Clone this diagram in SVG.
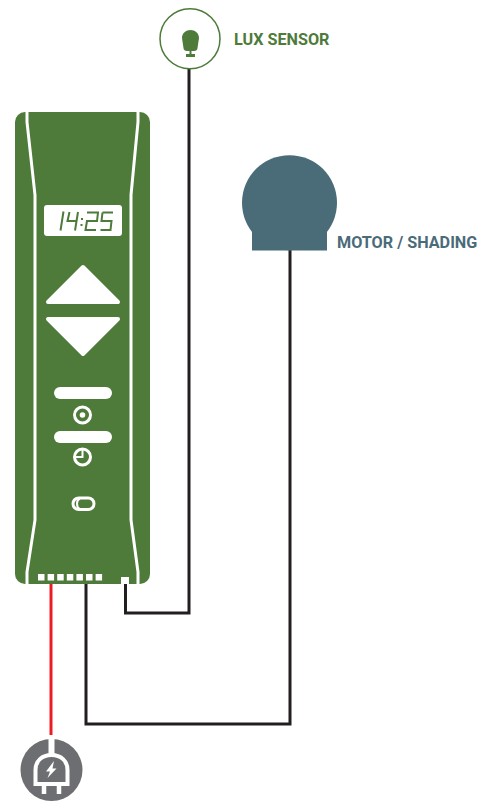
<svg xmlns="http://www.w3.org/2000/svg" width="479" height="802" viewBox="0 0 479 802">
<style>
.w{fill:#fff}
.ol{fill:none;stroke:#fff;stroke-width:3}
.lb{font-family:Roboto,"Liberation Sans",sans-serif;font-weight:700;font-size:16.2px}
.wire{fill:none;stroke:#231f20;stroke-width:3}
.seg{fill:none;stroke:#4e7a3a;stroke-width:2}
</style>
<rect width="479" height="802" fill="#fff"/>
<g id="connectors">
<path class="wire" d="M125.500 583V613H189V68"/>
<path class="wire" d="M86 582V724H290V250"/>
<path fill="none" stroke="#ed1c24" stroke-width="3" d="M51 582V735"/>
</g>
<g id="controller">
<rect x="15" y="112" width="135" height="472" rx="10" fill="#4e7a3a"/>
<path class="ol" d="M27 112V122L35 195V520L27 572V584"/>
<path class="ol" d="M138 112V122L131 195V520L138 572V584"/>
<rect class="w" x="44" y="205" width="78" height="31" rx="3"/>
<g class="seg">
<path d="M63.500 211.500L60.500 230.500"/>
<path d="M69.500 212L67.500 221H77M78 212L75 230.500"/>
<path d="M87 212.500H98L97 221H87L85.500 230H96"/>
<path d="M102.500 212.500H113M102.500 212.500L101.500 221H111.500L110.500 230H100.500"/>
<path d="M82 218v2M81.500 224v2"/>
</g>
<path class="w" stroke="#fff" stroke-width="4" stroke-linejoin="round" d="M83 267L118 302H48Z"/>
<path class="w" stroke="#fff" stroke-width="4" stroke-linejoin="round" d="M48 319H118L83 354Z"/>
<rect class="w" x="54" y="387" width="58" height="12" rx="6"/>
<rect class="w" x="54" y="431" width="58" height="12" rx="6"/>
<circle class="ol" cx="82.500" cy="415" r="8"/>
<circle class="w" cx="82.500" cy="415" r="2.800"/>
<circle class="ol" cx="82.500" cy="457" r="8"/>
<path fill="none" stroke="#fff" stroke-width="2" d="M82.500 449V457H75"/>
<rect class="ol" x="73" y="498" width="21" height="11.500" rx="5.750"/>
<path fill="none" stroke="#fff" stroke-width="2" d="M80 498.500C76 500 76 507.500 80 509"/>
<g class="w">
<rect x="38" y="574" width="6.500" height="6.500"/>
<rect x="47.600" y="574" width="6.500" height="6.500"/>
<rect x="57.200" y="574" width="6.500" height="6.500"/>
<rect x="66.800" y="574" width="6.500" height="6.500"/>
<rect x="76.400" y="574" width="6.500" height="6.500"/>
<rect x="86" y="574" width="6.500" height="6.500"/>
<rect x="95.600" y="574" width="6.500" height="6.500"/>
<rect x="121" y="577" width="8" height="7"/>
</g>
</g>
<g id="lux-sensor">
<circle cx="190" cy="38.700" r="30" fill="#fff" stroke="#4e7a3a" stroke-width="1.500"/>
<path fill="#4e7a3a" d="M182 38C182 33 186 30 190.500 30S199 33 199 38L197.500 48C197.500 50 196 51 194 51H187C185 51 183.500 50 183.500 48Z"/>
<rect x="186" y="54" width="9" height="3" fill="#4e7a3a"/>
<rect x="189.500" y="50" width="2" height="5" fill="#4e7a3a"/>
<text class="lb" x="234" y="45" fill="#4e7a3a">LUX SENSOR</text>
</g>
<g id="motor">
<circle cx="289.500" cy="202.700" r="47.500" fill="#4a6b78"/>
<rect x="252" y="228" width="75" height="22.500" fill="#4a6b78"/>
<text class="lb" x="337" y="248" fill="#4a6b78">MOTOR / SHADING</text>
</g>
<g id="power-plug">
<circle cx="51.500" cy="770" r="31" fill="#6d6e71"/>
<path d="M51.500 738V756" stroke="#fff" stroke-width="6" fill="none"/>
<path fill="none" stroke="#fff" stroke-width="4" d="M35.500 784V770C35.500 761 42 755 51.500 755S67.500 761 67.500 770V784Z"/>
<path fill="none" stroke="#fff" stroke-width="4.500" d="M44 784V794M59 784V794"/>
<path fill="#fff" d="M54 761L46 771.500H50L47.500 778L56.500 768.500H52.500Z"/>
</g>
</svg>
